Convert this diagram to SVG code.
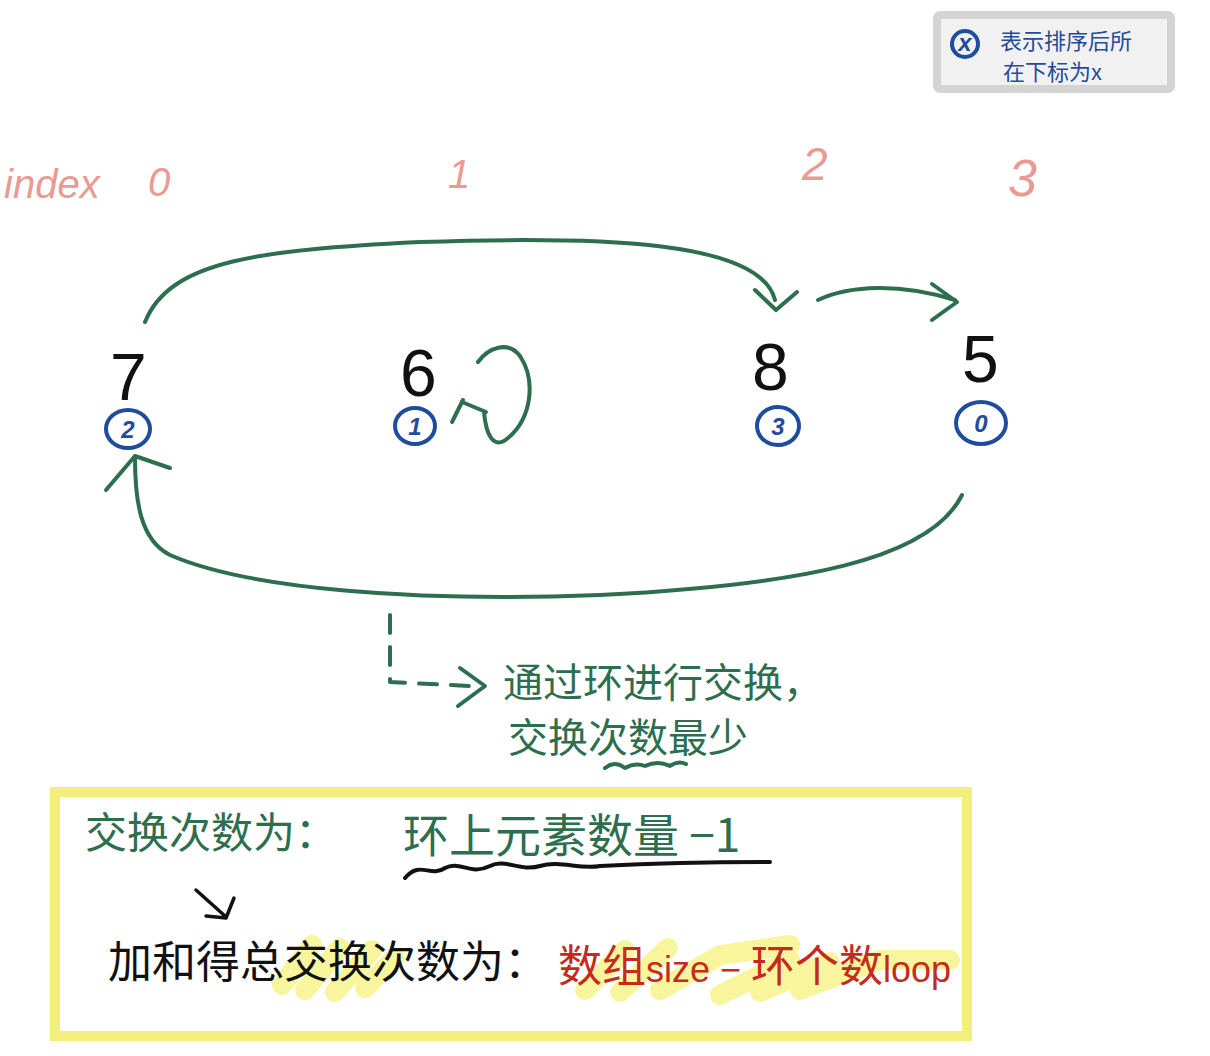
<svg xmlns="http://www.w3.org/2000/svg" width="1210" height="1056" viewBox="0 0 1210 1056">
  <style>
    .pen { fill: none; stroke-linecap: round; stroke-linejoin: round; }
    .green { stroke: #2d6e4f; stroke-width: 4; }
    .blue { stroke: #1f4c9c; stroke-width: 4; fill: none; }
    .gtxt { fill: #2d6e4f; font-family: "Noto Sans CJK SC", "Noto Sans", sans-serif; }
    .btxt { fill: #111; font-family: "Noto Sans CJK SC", "Noto Sans", sans-serif; }
    .rtxt { fill: #c42a1e; font-family: "Noto Sans CJK SC", "Noto Sans", sans-serif; }
    .idx { fill: #ea9a92; font-family: "Liberation Sans", "Noto Sans", sans-serif; font-style: italic; }
    .num { fill: #111; font-family: "Liberation Sans", "Noto Sans", sans-serif; font-size: 66px; }
    .sub { fill: #1f4c9c; font-family: "Liberation Sans", sans-serif; font-size: 24px; font-style: italic; font-weight: bold; text-anchor: middle; }
    .hl { fill: none; stroke: #f3ee5a; stroke-opacity: 0.6; stroke-width: 20; stroke-linecap: round; }
  </style>

  <rect width="1210" height="1056" fill="#ffffff"/>

  <!-- legend box, top right -->
  <g id="legend">
    <rect x="937" y="15" width="234" height="74" fill="#f1f1f1" stroke="#d4d4d4" stroke-width="8" rx="3"/>
    <circle cx="965" cy="44" r="13" class="blue" stroke-width="2.5"/>
    <text x="965" y="51" class="sub" font-size="18" font-weight="normal">x</text>
    <text x="1000" y="49" font-size="22" fill="#1f4c9c" font-family="Noto Sans CJK SC, sans-serif">表示排序后所</text>
    <text x="1003" y="80" font-size="22" fill="#1f4c9c" font-family="Noto Sans CJK SC, sans-serif">在下标为x</text>
  </g>

  <!-- index labels -->
  <g id="index-labels">
    <text x="4" y="198" class="idx" font-size="40">index</text>
    <text x="148" y="196" class="idx" font-size="40">0</text>
    <text x="448" y="188" class="idx" font-size="40">1</text>
    <text x="802" y="180" class="idx" font-size="46">2</text>
    <text x="1008" y="196" class="idx" font-size="52" font-style="normal">3</text>
  </g>

  <!-- array elements with their sorted target index -->
  <g id="node-7">
    <text x="110" y="400" class="num">7</text>
    <ellipse cx="128" cy="429" rx="22" ry="19" class="blue"/>
    <text x="128" y="438" class="sub">2</text>
  </g>
  <g id="node-6">
    <text x="400" y="396" class="num">6</text>
    <ellipse cx="415" cy="426" rx="20" ry="18" class="blue"/>
    <text x="415" y="435" class="sub">1</text>
  </g>
  <g id="node-8">
    <text x="752" y="390" class="num">8</text>
    <ellipse cx="778" cy="426" rx="21" ry="19" class="blue"/>
    <text x="778" y="435" class="sub">3</text>
  </g>
  <g id="node-5">
    <text x="962" y="382" class="num">5</text>
    <ellipse cx="981" cy="423" rx="25" ry="21" class="blue"/>
    <text x="981" y="432" class="sub">0</text>
  </g>

  <!-- cycle connectors -->
  <g id="connectors" class="pen green">
    <!-- 7 -> 8 (top arc) -->
    <path d="M145,322 C170,260 260,250 420,242 C600,236 760,240 775,300"/>
    <path d="M755,290 L776,310 L797,292"/>
    <!-- 8 -> 5 -->
    <path d="M818,300 C850,285 900,283 955,300"/>
    <path d="M932,284 L957,302 L932,320"/>
    <!-- 6 -> 6 self loop -->
    <path d="M478,362 C488,348 508,340 520,356 C536,380 532,418 508,438 C494,450 486,436 484,412"/>
    <path d="M463,400 L452,422"/>
    <path d="M462,402 L486,412"/>
    <!-- 5 -> 7 (bottom arc) -->
    <path d="M962,495 C930,560 800,585 600,595 C420,602 250,590 170,555 C140,540 135,500 135,458"/>
    <path d="M106,490 L135,456 L170,468"/>
    <!-- dashed pointer to the note -->
    <path d="M390,615 L390,682 L470,686" stroke-dasharray="18,14"/>
    <path d="M460,668 L485,686 L458,706"/>
  </g>

  <!-- note about cycle swapping -->
  <g id="note">
    <text x="503" y="697" class="gtxt" font-size="40">通过环进行交换，</text>
    <text x="508" y="752" class="gtxt" font-size="40">交换次数最少</text>
    <path class="pen green" stroke-width="3" d="M605,768 Q615,760 625,768 Q635,762 645,766 Q658,760 670,766 Q678,760 686,764"/>
  </g>

  <!-- summary box -->
  <g id="summary">
    <rect x="55" y="792" width="912" height="244" fill="none" stroke="#f4ef7c" stroke-width="10"/>
    <!-- highlighter strokes -->
    <path class="hl" d="M282,985 L312,945 M305,990 L340,948 M335,992 L372,950 M365,988 L395,958"/>
    <path class="hl" d="M585,990 L625,950 M620,992 L668,948 M660,990 L720,955 L790,945 M720,995 L790,960 M760,992 L830,962 M800,990 L880,960 L950,960"/>
    <text x="85" y="848" class="gtxt" font-size="42">交换次数为：</text>
    <text x="403" y="852" class="gtxt" font-size="46">环上元素数量 −1</text>
    <path class="pen" stroke="#111" stroke-width="4" d="M405,878 C420,860 430,878 445,868 C460,860 470,876 490,866 C505,858 520,872 540,866 C560,860 580,870 600,866 C640,864 700,862 770,862"/>
    <!-- arrow to total -->
    <path class="pen" stroke="#111" stroke-width="3.5" d="M196,890 L225,916 M234,898 L226,918 L206,916"/>
    <text x="108" y="978" class="btxt" font-size="44">加和得总交换次数为：</text>
    <text x="558" y="982" class="rtxt" font-size="44">数组<tspan font-size="36" font-family="Liberation Sans, sans-serif">size − </tspan>环个数<tspan font-size="36" font-family="Liberation Sans, sans-serif">loop</tspan></text>
  </g>
</svg>
